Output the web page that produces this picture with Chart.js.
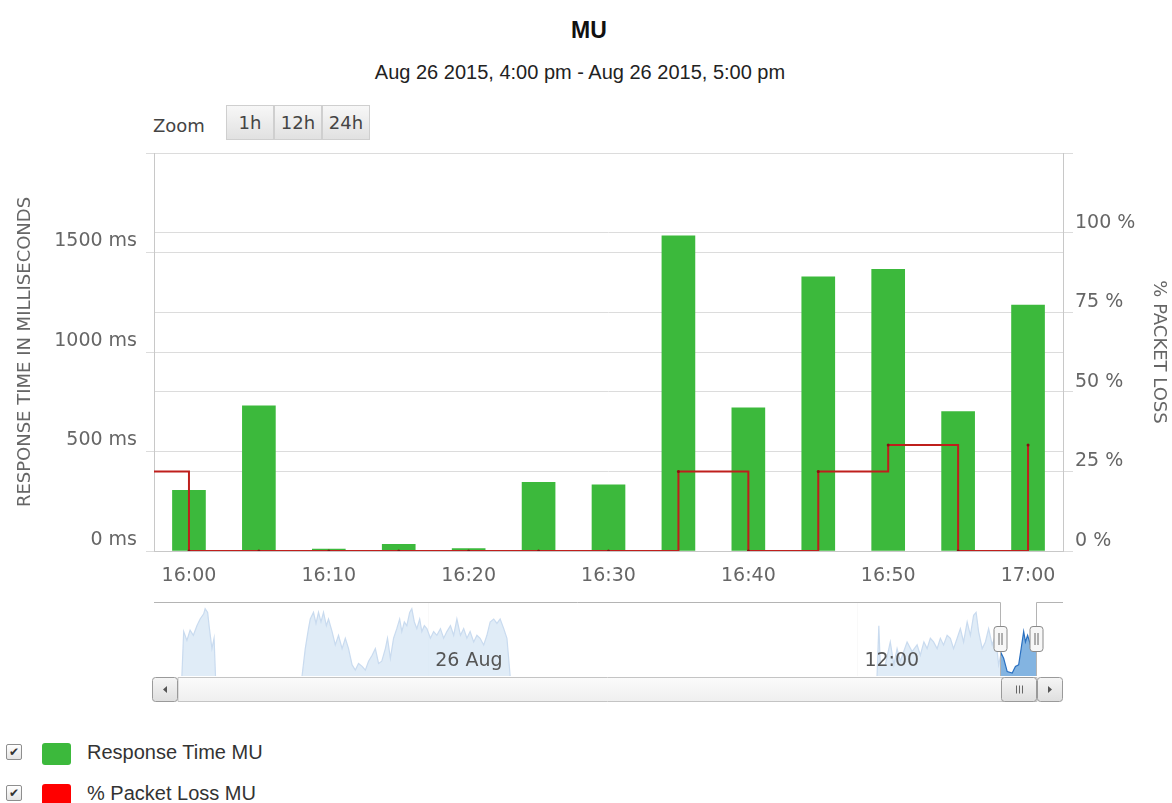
<!DOCTYPE html>
<html>
<head>
<meta charset="utf-8">
<title>MU</title>
<script src="https://cdn.jsdelivr.net/npm/chart.js@4.4.1/dist/chart.umd.min.js"></script>
<style>
  body { margin: 0; background: #fff; font-family: "Liberation Sans", Arial, sans-serif; }
  #page { position: relative; width: 1172px; height: 803px; overflow: hidden; }
  .abs { position: absolute; }
  #title { left: 0; width: 1178px; top: 18px; text-align: center; font-weight: bold; font-size: 23px; line-height: 24px; color: #111; }
  #subtitle { left: 0; width: 1160px; top: 61px; text-align: center; font-size: 20px; line-height: 22px; color: #222; }
  #zoomLabel { left: 153px; top: 114px; font-family: "DejaVu Sans"; font-size: 18px; line-height: 24px; color: #444; }
  .zbtn { top: 105px; width: 48px; height: 35px; box-sizing: border-box; border: 1px solid #cfcfcf; background: linear-gradient(#f7f7f7, #e1e1e1);
          font-family: "DejaVu Sans"; font-size: 18px; line-height: 33px; color: #444; text-align: center; }
  .chk { width: 16px; height: 16px; box-sizing: border-box; border: 1px solid #8e8e8e; border-radius: 2px; background: linear-gradient(#fff, #e4e4e4);
         font-family: "DejaVu Sans"; font-size: 12px; line-height: 14px; text-align: center; color: #333; }
  .sw { width: 29px; height: 22px; border-radius: 3px; }
  .lt { font-size: 20px; line-height: 24px; color: #333; }
</style>
</head>
<body>
<div id="page">
  <div id="title" class="abs">MU</div>
  <div id="subtitle" class="abs">Aug 26 2015, 4:00 pm - Aug 26 2015, 5:00 pm</div>
  <div id="zoomLabel" class="abs">Zoom</div>
  <div id="zoomBtns"></div>
  <div class="abs" style="left:0;top:140px;width:1172px;height:450px"><canvas id="main" width="1172" height="450"></canvas></div>
  <div class="abs" style="left:140px;top:596px;width:935px;height:112px"><canvas id="nav" width="935" height="112"></canvas></div>
  <div id="legend"></div>
</div>
<script>
// 5-minute samples, 26 Aug 2015
const times = ['16:00', '16:05', '16:10', '16:15', '16:20', '16:25', '16:30', '16:35', '16:40', '16:45', '16:50', '16:55', '17:00'];
const responseMs = [305, 730, 10, 33, 12, 345, 332, 1584, 720, 1378, 1415, 700, 1236];
// packet loss starts one sample before the window
const lossTimes = ['15:55', '16:00', '16:05', '16:10', '16:15', '16:20', '16:25', '16:30', '16:35', '16:40', '16:45', '16:50', '16:55', '17:00'];
const lossPct = [25, 0, 0, 0, 0, 0, 0, 0, 25, 0, 25, 33.3, 0, 33.3];

const tickTimes = ['16:00', '16:10', '16:20', '16:30', '16:40', '16:50', '17:00'];
const msTicks = [0, 500, 1000, 1500, 2000];
const pctTicks = [0, 25, 50, 75, 100, 125];

const seriesNames = ['Response Time MU', '% Packet Loss MU'];
const seriesColors = ['#3cb93c', '#ff0000'];
const lineColor = '#bf1f1c';

const zoomButtons = ['1h', '12h', '24h'];

// navigator: hours from 26 Aug 00:00, relative height (null = gap)
const navHours = [
  -6.89, -6.84, -6.75, -6.66, -6.57, -6.47, -6.38, -6.28, -6.24, -6.17, -6.12, -6.05, -5.99, -5.95, -5.9,
  -3.53, -3.44, -3.35, -3.30, -3.21, -3.14, -3.07, -3.00, -2.93, -2.85, -2.79, -2.69, -2.60, -2.51, -2.41, -2.32,
  -2.23, -2.13, -2.04, -1.95, -1.85, -1.76, -1.67, -1.57, -1.48, -1.39, -1.30, -1.20, -1.14, -1.06, -0.97, -0.88,
  -0.80, -0.74, -0.67, -0.60, -0.52, -0.46, -0.39, -0.32, -0.24, -0.18, -0.11, -0.04, 0.06, 0.15, 0.24, 0.34,
  0.43, 0.52, 0.62, 0.71, 0.80, 0.90, 0.99, 1.08, 1.17, 1.27, 1.36, 1.45, 1.55, 1.64, 1.73, 1.83, 1.92, 2.01,
  2.11, 2.20, 2.29, 2.35,
  12.55, 12.60, 12.64, 12.78, 12.92, 13.02, 13.11, 13.20, 13.39, 13.53, 13.67, 13.76, 13.86, 13.95, 14.04, 14.13,
  14.23, 14.32, 14.41, 14.51, 14.60, 14.69, 14.79, 14.88, 14.97, 15.07, 15.16, 15.25, 15.32, 15.39, 15.49, 15.58,
  15.67, 15.77, 15.86, 15.95, 16.02, 16.09, 16.19, 16.33, 16.42, 16.51, 16.58, 16.65, 16.70, 16.76, 16.84, 16.93, 17.00
];
const navValues = [
  0, 60, 48, 62, 55, 68, 77, 84, 91, 86, 64, 37, 51, 0, null,
  0, 37, 64, 77, 86, 71, 86, 73, 86, 68, 77, 60, 42, 55, 37, 51,
  37, 15, 8, 17, 13, 8, 20, 28, 37, 17, 20, 37, 51, 24, 51, 64,
  77, 60, 73, 68, 86, 91, 73, 64, 77, 60, 68, 64, 51, 60, 55, 64,
  51, 60, 68, 55, 77, 55, 64, 51, 60, 46, 55, 51, 42, 55, 73, 77, 71, 77,
  64, 51, 0, null,
  0, 68, 15, 15, 46, 15, 37, 20, 46, 33, 42, 28, 46, 37, 51, 46,
  37, 51, 42, 55, 51, 37, 51, 64, 46, 73, 55, 82, 86, 60, 37, 46,
  64, 42, 55, 15, 31, 24, 6, 4, 13, 15, 37, 60, 46, 55, 42, 62, 60
];
const navTickHours = [0, 12];
const navTickLabels = ['26 Aug', '12:00'];
const selStart = 16, selEnd = 17;

function toMin(t) {
  const [h, m] = t.split(':').map(Number);
  return (h - 16) * 60 + m;
}

Chart.defaults.font.family = 'DejaVu Sans';

// zoom buttons + legend
const zb = document.getElementById('zoomBtns');
zoomButtons.forEach((b, i) => {
  const d = document.createElement('div');
  d.className = 'abs zbtn';
  d.style.left = (226 + i * 48) + 'px';
  d.textContent = b;
  zb.appendChild(d);
});
const lg = document.getElementById('legend');
seriesNames.forEach((n, i) => {
  const top = 743 + i * 41;
  lg.insertAdjacentHTML('beforeend',
    '<div class="abs chk" style="left:6px;top:' + (top + 1) + 'px">\u2714</div>' +
    '<div class="abs sw" style="left:42px;top:' + top + 'px;background:' + seriesColors[i] + '"></div>' +
    '<div class="abs lt" style="left:87px;top:' + (top - 3) + 'px">' + n + '</div>');
});

// keep the plot box fixed: 154..1063 x 153..551 on the page
function fixY(width) {
  return s => { s.width = width; s.paddingTop = 0; s.paddingBottom = 0; };
}

new Chart(document.getElementById('main'), {
  type: 'bar',
  data: {
    datasets: [
      {
        type: 'line',
        label: seriesNames[1],
        yAxisID: 'y1',
        order: 0,
        data: lossTimes.map((t, i) => ({ x: toMin(t), y: lossPct[i] })),
        stepped: true,
        borderColor: lineColor,
        borderWidth: 2,
        pointRadius: 1.5,
        pointBorderWidth: 0,
        pointBackgroundColor: '#8a1010',
        fill: false
      },
      {
        type: 'bar',
        label: seriesNames[0],
        yAxisID: 'y',
        order: 1,
        data: times.map((t, i) => ({ x: toMin(t), y: responseMs[i] })),
        backgroundColor: seriesColors[0],
        barThickness: 33
      }
    ]
  },
  options: {
    responsive: false,
    animation: false,
    layout: { padding: { top: 13, left: 0, right: 0, bottom: 0 } },
    plugins: { legend: { display: false }, tooltip: { enabled: false } },
    scales: {
      x: {
        type: 'linear',
        min: -2.5,
        max: 62.5,
        offset: false,
        afterBuildTicks: s => { s.ticks = tickTimes.map(t => ({ value: toMin(t) })); },
        afterFit: s => { s.height = 39; s.paddingLeft = 0; s.paddingRight = 0; },
        grid: { display: false },
        border: { display: true, color: '#c8c8c8' },
        ticks: {
          autoSkip: false, maxRotation: 0, padding: 6, color: '#666', font: { size: 19 },
          callback: v => tickTimes.find(t => toMin(t) === v) || ''
        }
      },
      y: {
        position: 'left',
        min: 0,
        max: 2000,
        afterBuildTicks: s => { s.ticks = msTicks.map(v => ({ value: v })); },
        afterFit: fixY(154),
        grid: { color: '#dcdcdc', tickLength: 8 },
        border: { display: true, color: '#c8c8c8' },
        ticks: {
          padding: 9, labelOffset: -11, color: '#666', font: { size: 19 },
          callback: (v, i, arr) => i === arr.length - 1 ? '' : v + ' ms'
        },
        title: { display: true, text: 'RESPONSE TIME IN MILLISECONDS', color: '#666', font: { size: 18 }, padding: { top: 15 } }
      },
      y1: {
        position: 'right',
        min: 0,
        max: 125,
        afterBuildTicks: s => { s.ticks = pctTicks.map(v => ({ value: v })); },
        afterFit: fixY(109),
        grid: { color: '#dcdcdc', tickLength: 10 },
        border: { display: true, color: '#c8c8c8' },
        ticks: {
          padding: 2, labelOffset: -10, color: '#666', font: { size: 19 },
          callback: (v, i, arr) => i === arr.length - 1 ? '' : v + ' %'
        },
        title: { display: true, text: '% PACKET LOSS', color: '#666', font: { size: 18 }, padding: { top: 3 } }
      }
    }
  }
});

function grad(ctx, y0, y1, c0, c1) {
  const g = ctx.createLinearGradient(0, y0, 0, y1);
  g.addColorStop(0, c0);
  g.addColorStop(1, c1);
  return g;
}

function sbBox(ctx, x0, x1, y0, y1) {
  ctx.beginPath();
  ctx.roundRect(x0 + 0.5, y0 + 0.5, x1 - x0 - 1, y1 - y0 - 1, 3);
  ctx.fillStyle = grad(ctx, y0, y1, '#f6f6f6', '#dedede');
  ctx.fill();
  ctx.strokeStyle = '#9a9a9a';
  ctx.stroke();
}

const navDecor = {
  id: 'navDecor',
  beforeDatasetsDraw(chart) {
    const { ctx, chartArea: a, scales: { x } } = chart;
    ctx.save();
    ctx.strokeStyle = '#e8e8e8';
    ctx.lineWidth = 1;
    navTickHours.forEach(h => {
      const px = Math.round(x.getPixelForValue(h)) + 0.5;
      ctx.beginPath();
      ctx.moveTo(px, a.top);
      ctx.lineTo(px, a.bottom);
      ctx.stroke();
    });
    ctx.restore();
  },
  afterDatasetsDraw(chart) {
    const { ctx, chartArea: a, scales: { x } } = chart;
    const x0 = Math.round(x.getPixelForValue(selStart));
    const x1 = Math.round(x.getPixelForValue(selEnd));
    ctx.save();
    // mask outside the selected range
    ctx.fillStyle = 'rgba(255,255,255,0.75)';
    ctx.fillRect(a.left, a.top, x0 - a.left, a.bottom - a.top);
    ctx.fillRect(x1, a.top, a.right - x1, a.bottom - a.top);

    // axis labels
    ctx.fillStyle = '#555';
    ctx.font = '19px "DejaVu Sans"';
    ctx.textBaseline = 'middle';
    ctx.textAlign = 'left';
    navTickHours.forEach((h, i) => ctx.fillText(navTickLabels[i], x.getPixelForValue(h) + 7, a.top + 59));

    // outline
    ctx.strokeStyle = '#b4b4b4';
    ctx.lineWidth = 1;
    ctx.beginPath();
    ctx.moveTo(a.left, a.top + 0.5);
    ctx.lineTo(x0 + 0.5, a.top + 0.5);
    ctx.lineTo(x0 + 0.5, a.bottom);
    ctx.moveTo(x1 + 0.5, a.bottom);
    ctx.lineTo(x1 + 0.5, a.top + 0.5);
    ctx.lineTo(a.right, a.top + 0.5);
    ctx.stroke();

    // handles
    [x0, x1].forEach(px => {
      const hy = a.top + 24;
      ctx.beginPath();
      ctx.roundRect(px - 6, hy + 0.5, 13, 25, 3);
      ctx.fillStyle = '#f7f7f7';
      ctx.fill();
      ctx.strokeStyle = '#8a8a8a';
      ctx.stroke();
      ctx.beginPath();
      ctx.moveTo(px - 1, hy + 7); ctx.lineTo(px - 1, hy + 19);
      ctx.moveTo(px + 2, hy + 7); ctx.lineTo(px + 2, hy + 19);
      ctx.strokeStyle = '#666';
      ctx.stroke();
    });

    // scrollbar
    const sy0 = a.bottom + 1, sy1 = a.bottom + 26;
    const lb1 = a.left + 24, rb0 = a.right - 26;
    ctx.beginPath();
    ctx.rect(lb1, sy0 + 0.5, rb0 - lb1, sy1 - sy0 - 1);
    ctx.fillStyle = grad(ctx, sy0, sy1, '#fbfbfb', '#efefef');
    ctx.fill();
    ctx.strokeStyle = '#c4c4c4';
    ctx.stroke();
    sbBox(ctx, a.left - 2, lb1, sy0, sy1);
    sbBox(ctx, rb0, a.right, sy0, sy1);
    sbBox(ctx, x0 + 1, x1 + 1, sy0, sy1);

    const cy = (sy0 + sy1) / 2;
    ctx.fillStyle = '#555';
    ctx.beginPath();
    const lc = (a.left - 2 + lb1) / 2;
    ctx.moveTo(lc - 2, cy); ctx.lineTo(lc + 2, cy - 3.5); ctx.lineTo(lc + 2, cy + 3.5); ctx.closePath();
    const rc = (rb0 + a.right) / 2;
    ctx.moveTo(rc + 2, cy); ctx.lineTo(rc - 2, cy - 3.5); ctx.lineTo(rc - 2, cy + 3.5); ctx.closePath();
    ctx.fill();

    const tc = Math.round((x0 + x1) / 2) + 1.5;
    ctx.strokeStyle = '#666';
    ctx.beginPath();
    [-3, 0, 3].forEach(d => { ctx.moveTo(tc + d, cy - 4); ctx.lineTo(tc + d, cy + 4); });
    ctx.stroke();
    ctx.restore();
  }
};

new Chart(document.getElementById('nav'), {
  type: 'line',
  data: {
    datasets: [{
      data: navHours.map((h, i) => ({ x: h, y: navValues[i] })),
      fill: 'origin',
      borderColor: '#2a70c0',
      backgroundColor: 'rgba(90,155,215,0.75)',
      borderWidth: 1.2,
      pointRadius: 0,
      tension: 0,
      spanGaps: false
    }]
  },
  options: {
    responsive: false,
    animation: false,
    layout: { padding: { left: 14, right: 12, top: 6, bottom: 32 } },
    plugins: { legend: { display: false }, tooltip: { enabled: false } },
    scales: {
      x: { type: 'linear', display: false, min: -7.67, max: 17.75 },
      y: { display: false, min: 0, max: 100 }
    }
  },
  plugins: [navDecor]
});
</script>
</body>
</html>
